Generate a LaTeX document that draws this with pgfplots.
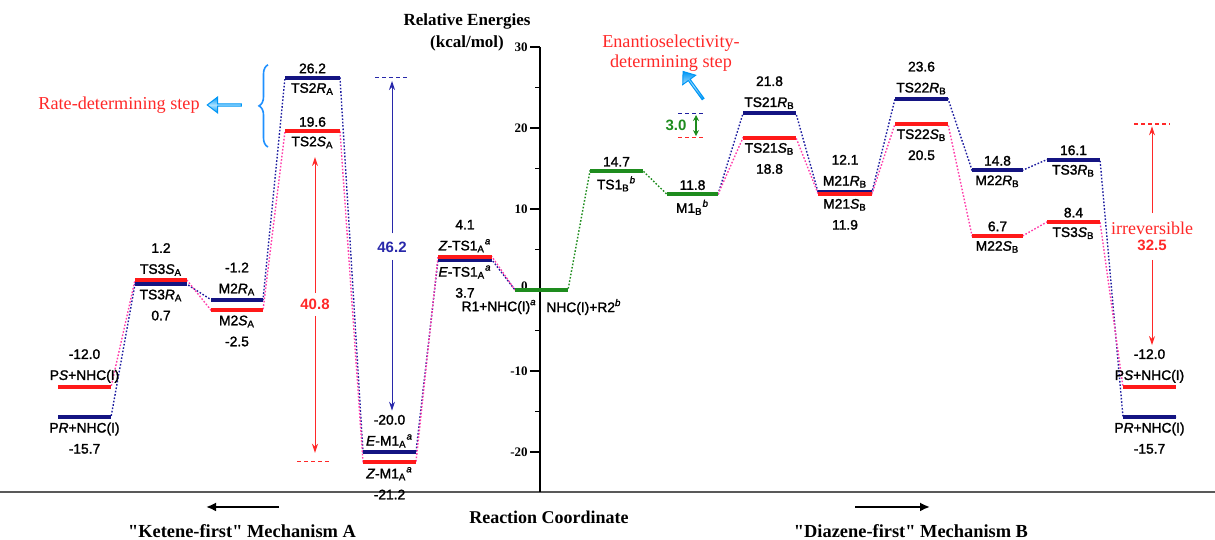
\documentclass[border=0pt]{standalone}
\usepackage{pgfplots}
\pgfplotsset{compat=1.18}
\usepackage{fontspec}
\setmainfont{Liberation Serif}
\setsansfont{Liberation Sans}
\newfontfamily\labfont{Liberation Sans}[FakeBold=1.6]
\usetikzlibrary{arrows.meta,shapes.arrows,decorations.pathreplacing}
\definecolor{lvblue}{RGB}{20,20,130}
\definecolor{lvred}{RGB}{255,25,25}
\definecolor{lvgreen}{RGB}{30,140,30}
\definecolor{cnblue}{RGB}{30,30,160}
\definecolor{cnpink}{RGB}{255,60,170}
\definecolor{anblue}{RGB}{40,40,170}
\definecolor{anred}{RGB}{255,40,40}
\definecolor{brblue}{RGB}{30,144,255}
\definecolor{arlight}{RGB}{170,225,255}
\definecolor{ardark}{RGB}{0,150,245}
\newcommand{\sub}[1]{\textsubscript{#1}}
\newcommand{\sps}[1]{\textsuperscript{\textit{#1}}}
\newcommand{\lev}[4]{\addplot[#1,line width=2pt,forget plot] coordinates {(#2,#4) (#3,#4)};}
\newcommand{\labA}[3]{\node[lab,anchor=south,yshift=2pt] at (axis cs:#1,#2) {#3};}
\newcommand{\labB}[3]{\node[lab,anchor=north,yshift=-2.5pt] at (axis cs:#1,#2) {#3};}
\begin{document}
\begin{tikzpicture}[
  lab/.style={font=\labfont\fontsize{6.9}{10.5}\selectfont,align=center,inner sep=0pt},
  conn/.style={line width=0.7pt,dash pattern=on 0.8pt off 0.9pt},
  blockarrow/.style={single arrow,draw=ardark,line width=0.5pt,minimum height=17pt,minimum width=8pt,
    single arrow head extend=1.5pt,single arrow tip angle=75,inner sep=0pt,
    top color=ardark,bottom color=ardark,middle color=arlight}]
\begin{axis}[
  x=0.5pt,y=4.05pt,
  xmin=-540,xmax=675,ymin=-24.94,ymax=30,
  axis x line=bottom, axis y line=center,
  axis line style={-},
  x axis line style={line width=1.3pt,color=black!65},
  y axis line style={line width=0.6pt,black},
  xtick=\empty,
  ytick={-20,-10,0,10,20,30},
  yticklabels={-20,-10,\raisebox{4pt}{0},10,20,30},
  minor ytick={-15,-5,5,15,25},
  ytick align=outside,
  major tick length=5pt, minor tick length=2.5pt,
  tick style={line width=0.6pt,black},
  yticklabel style={font=\bfseries\fontsize{6.5}{7}\selectfont,inner sep=1pt},
  clip=false,
]
% ---- connectors ----
\addplot[cnblue,conn,forget plot] coordinates {(-482,-15.7) (-429,-15.7) (-405,0.7) (-353,0.7) (-329,-1.2) (-277,-1.2) (-255,26.2) (-200,26.2) (-177,-20.0) (-124,-20.0) (-102,3.7) (-48,3.7) (-25,0)};
\addplot[cnpink,conn,forget plot] coordinates {(-482,-12.0) (-429,-12.0) (-405,1.2) (-353,1.2) (-329,-2.5) (-277,-2.5) (-255,19.6) (-200,19.6) (-177,-21.2) (-124,-21.2) (-102,4.1) (-48,4.1) (-25,0)};
\addplot[lvgreen,conn,forget plot] coordinates {(-25,0) (28,0) (50,14.7) (103,14.7) (127,11.8) (178,11.8)};
\addplot[cnblue,conn,forget plot] coordinates {(178,11.8) (203,21.8) (256,21.8) (278,12.1) (332,12.1) (355,23.6) (408,23.6) (432,14.8) (483,14.8) (507,16.1) (560,16.1) (583,-15.7) (636,-15.7)};
\addplot[cnpink,conn,forget plot] coordinates {(178,11.8) (203,18.8) (256,18.8) (278,11.9) (332,11.9) (355,20.5) (408,20.5) (432,6.7) (483,6.7) (507,8.4) (560,8.4) (583,-12.0) (636,-12.0)};
% ---- levels ----
\lev{lvred}{-482}{-429}{-12.0}
\lev{lvblue}{-482}{-429}{-15.7}
\lev{lvred}{-405}{-353}{1.2}
\lev{lvblue}{-405}{-353}{0.7}
\lev{lvblue}{-329}{-277}{-1.2}
\lev{lvred}{-329}{-277}{-2.5}
\lev{lvblue}{-255}{-200}{26.2}
\lev{lvred}{-255}{-200}{19.6}
\lev{lvblue}{-177}{-124}{-20.0}
\lev{lvred}{-177}{-124}{-21.2}
\lev{lvblue}{-102}{-48}{3.7}
\lev{lvred}{-102}{-48}{4.1}
\lev{lvgreen}{-25}{28}{0}
\lev{lvgreen}{50}{103}{14.7}
\lev{lvgreen}{127}{178}{11.8}
\lev{lvblue}{203}{256}{21.8}
\lev{lvred}{203}{256}{18.8}
\lev{lvblue}{278}{332}{12.1}
\lev{lvred}{278}{332}{11.9}
\lev{lvblue}{355}{408}{23.6}
\lev{lvred}{355}{408}{20.5}
\lev{lvblue}{432}{483}{14.8}
\lev{lvred}{432}{483}{6.7}
\lev{lvblue}{507}{560}{16.1}
\lev{lvred}{507}{560}{8.4}
\lev{lvred}{583}{636}{-12.0}
\lev{lvblue}{583}{636}{-15.7}
% ---- level labels ----
\labA{-455.5}{-12}{-12.0\\P\textit{S}+NHC(I)}
\labB{-455.5}{-15.7}{P\textit{R}+NHC(I)\\-15.7}
\labA{-379}{1.2}{1.2\\TS3\textit{S}\sub{A}}
\labB{-379}{0.7}{TS3\textit{R}\sub{A}\\0.7}
\labA{-303}{-1.2}{-1.2\\M2\textit{R}\sub{A}}
\labB{-303}{-2.5}{M2\textit{S}\sub{A}\\-2.5}
\labA{-227.5}{26.2}{26.2}
\labB{-227.5}{26.2}{TS2\textit{R}\sub{A}}
\labA{-227.5}{19.6}{19.6}
\labB{-227.5}{19.6}{TS2\textit{S}\sub{A}}
\labA{-150.5}{-20}{-20.0\\\textit{E}-M1\sub{A}\sps{a}}
\labB{-150.5}{-21.2}{\textit{Z}-M1\sub{A}\sps{a}\\-21.2}
\labA{-75}{4.1}{4.1\\\textit{Z}-TS1\sub{A}\sps{a}}
\labB{-75}{3.7}{\textit{E}-TS1\sub{A}\sps{a}\\3.7}
\node[lab,anchor=east] at (axis cs:-3,-2.1) {R1+NHC(I)\sps{a}};
\node[lab,anchor=west] at (axis cs:6,-2.1) {NHC(I)+R2\sps{b}};
\labA{76.5}{14.7}{14.7}
\labB{76.5}{14.7}{TS1\sub{B}\sps{b}}
\labA{152.5}{11.8}{11.8}
\labB{152.5}{11.8}{M1\sub{B}\sps{b}}
\labA{229.5}{21.8}{21.8\\TS21\textit{R}\sub{B}}
\labB{229.5}{18.8}{TS21\textit{S}\sub{B}\\18.8}
\labA{305}{12.1}{12.1\\M21\textit{R}\sub{B}}
\labB{305}{11.9}{M21\textit{S}\sub{B}\\11.9}
\labA{381.5}{23.6}{23.6\\TS22\textit{R}\sub{B}}
\labB{381.5}{20.5}{TS22\textit{S}\sub{B}\\20.5}
\labA{457.5}{14.8}{14.8}
\labB{457.5}{14.8}{M22\textit{R}\sub{B}}
\labA{457.5}{6.7}{6.7}
\labB{457.5}{6.7}{M22\textit{S}\sub{B}}
\labA{533.5}{16.1}{16.1}
\labB{533.5}{16.1}{TS3\textit{R}\sub{B}}
\labA{533.5}{8.4}{8.4}
\labB{533.5}{8.4}{TS3\textit{S}\sub{B}}
\labA{609.5}{-12}{-12.0\\P\textit{S}+NHC(I)}
\labB{609.5}{-15.7}{P\textit{R}+NHC(I)\\-15.7}
% ---- annotations: 46.2 ----
\draw[anblue,line width=0.7pt,dash pattern=on 2pt off 1.5pt] (axis cs:-165,26.2) -- (axis cs:-130,26.2);
\draw[anblue,line width=0.5pt,-{Stealth[length=4.5pt,width=3pt]}] (axis cs:-148,7.0) -- (axis cs:-148,25.8);
\draw[anblue,line width=0.5pt,-{Stealth[length=4.5pt,width=3pt]}] (axis cs:-148,3.7) -- (axis cs:-148,-14.9);
\node[anblue,font=\sffamily\bfseries\fontsize{7.5}{9}\selectfont] at (axis cs:-148,5.3) {46.2};
% ---- 40.8 ----
\draw[anred,line width=0.7pt,dash pattern=on 2pt off 1.5pt] (axis cs:-243,-21.2) -- (axis cs:-208,-21.2);
\draw[anred,line width=0.5pt,-{Stealth[length=4.5pt,width=3pt]}] (axis cs:-225,-0.4) -- (axis cs:-225,16.4);
\draw[anred,line width=0.5pt,-{Stealth[length=4.5pt,width=3pt]}] (axis cs:-225,-3.2) -- (axis cs:-225,-20.1);
\node[anred,font=\sffamily\bfseries\fontsize{7.5}{9}\selectfont] at (axis cs:-225,-1.8) {40.8};
% ---- 3.0 ----
\draw[cnblue,line width=0.7pt,dash pattern=on 2pt off 1.5pt] (axis cs:138,21.8) -- (axis cs:163,21.8);
\draw[anred,line width=0.7pt,dash pattern=on 2pt off 1.5pt] (axis cs:138,18.8) -- (axis cs:163,18.8);
\draw[lvgreen,line width=0.6pt,{Stealth[length=3pt,width=3pt]}-{Stealth[length=3pt,width=3pt]}] (axis cs:156,21.6) -- (axis cs:156,19.0);
\node[lvgreen,font=\sffamily\bfseries\fontsize{7.5}{9}\selectfont] at (axis cs:136,20.3) {3.0};
% ---- irreversible 32.5 ----
\draw[anred,line width=0.7pt,dash pattern=on 2pt off 1.5pt] (axis cs:594,20.5) -- (axis cs:630,20.5);
\draw[anred,line width=0.5pt,-{Stealth[length=4.5pt,width=3pt]}] (axis cs:612,9.5) -- (axis cs:612,20.2);
\draw[anred,line width=0.5pt,-{Stealth[length=4.5pt,width=3pt]}] (axis cs:612,3.7) -- (axis cs:612,-6.8);
\node[anred,font=\fontsize{9}{10}\selectfont] at (axis cs:612,7.65) {irreversible};
\node[anred,font=\sffamily\bfseries\fontsize{7.5}{9}\selectfont] at (axis cs:612,5.5) {32.5};
% ---- rate-determining ----
\node[anred,font=\fontsize{9.1}{10}\selectfont] at (axis cs:-421,22.84) {Rate-determining step};
\node[blockarrow,rotate=180] at (axis cs:-315,22.84) {};
\draw[brblue,line width=0.8pt,decorate,decoration={brace,amplitude=4.5pt}] (axis cs:-272,17.65) -- (axis cs:-272,27.8);
% ---- enantioselectivity ----
\node[anred,font=\fontsize{9.1}{10}\selectfont,align=center] at (axis cs:131,29.26) {Enantioselectivity-\\determining step};
\node[blockarrow,rotate=126] at (axis cs:153.5,25.2) {};
% ---- titles ----
\node[font=\bfseries\fontsize{8.5}{10}\selectfont] at (axis cs:-73,33.09) {Relative Energies};
\node[font=\bfseries\fontsize{8.5}{10}\selectfont] at (axis cs:-73,30.49) {(kcal/mol)};
\node[font=\bfseries\fontsize{9}{10}\selectfont] at (axis cs:9,-28.02) {Reaction Coordinate};
\draw[line width=1pt,-{Latex[length=5pt,width=4.5pt]}] (axis cs:-261,-26.79) -- (axis cs:-334,-26.79);
\draw[line width=1pt,-{Latex[length=5pt,width=4.5pt]}] (axis cs:315,-26.79) -- (axis cs:390,-26.79);
\node[font=\bfseries\fontsize{9.2}{10}\selectfont] at (axis cs:-298,-29.75) {\textquotedbl Ketene-first\textquotedbl{} Mechanism A};
\node[font=\bfseries\fontsize{9.2}{10}\selectfont] at (axis cs:371,-29.75) {\textquotedbl Diazene-first\textquotedbl{} Mechanism B};
\coordinate (BL) at (axis cs:-540,-30.86);
\coordinate (TR) at (axis cs:675,35.80);
\end{axis}
\pgfresetboundingbox
\path[use as bounding box] (BL) rectangle (TR);
\end{tikzpicture}
\end{document}
